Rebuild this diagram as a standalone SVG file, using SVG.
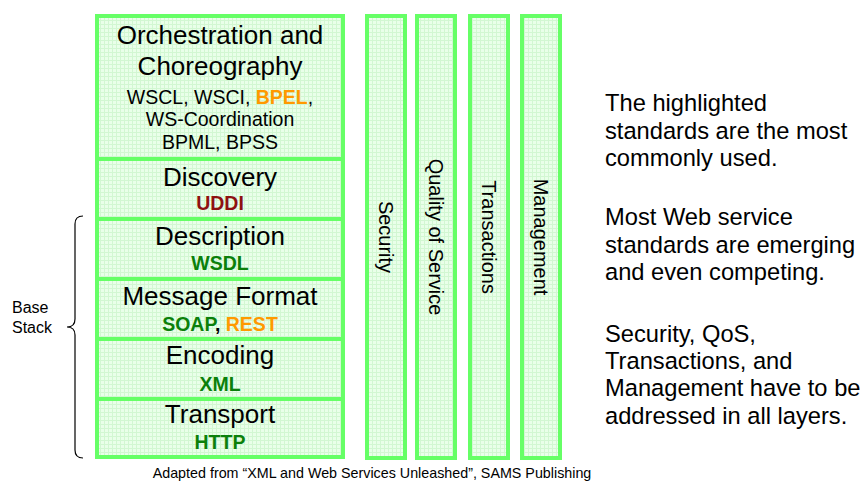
<svg xmlns="http://www.w3.org/2000/svg" width="867" height="482" viewBox="0 0 867 482">
  <defs>
    <!-- light green grid fill used by every layer box -->
    <pattern id="grid" width="4" height="4" patternUnits="userSpaceOnUse">
      <rect width="4" height="4" fill="#e9ffe9"/>
      <path d="M0 0.5H4M0.5 0V4" stroke="#d2f7d2" stroke-width="1" fill="none"/>
    </pattern>
  </defs>
  <style>
    .box { fill: url(#grid); stroke: #66ff66; stroke-width: 4; }
    text { font-family: "Liberation Sans", Arial, sans-serif; fill: #000; }
    .title { font-size: 26px; text-anchor: middle; }
    .sub { font-size: 19.5px; text-anchor: middle; }
    .b { font-weight: bold; }
    .green { fill: #0b800b; }
    .orange { fill: #ff9900; }
    .red { fill: #8e1111; }
    .col { font-size: 20px; text-anchor: middle; }
    .note { font-size: 23.7px; }
    .small { font-size: 16px; }
    .caption { font-size: 14.3px; text-anchor: middle; }
  </style>

  <!-- main protocol stack -->
  <g id="orchestration">
    <rect class="box" x="97" y="16" width="246" height="143"/>
    <text class="title" x="220" y="44">Orchestration and</text>
    <text class="title" x="220" y="75">Choreography</text>
    <text class="sub" x="220" y="104">WSCL, WSCI, <tspan class="b orange">BPEL</tspan>,</text>
    <text class="sub" x="220" y="126">WS-Coordination</text>
    <text class="sub" x="220" y="149">BPML, BPSS</text>
  </g>
  <g id="discovery">
    <rect class="box" x="97" y="159" width="246" height="60"/>
    <text class="title" x="220" y="186">Discovery</text>
    <text class="sub b red" x="220" y="210">UDDI</text>
  </g>
  <g id="description">
    <rect class="box" x="97" y="219" width="246" height="60"/>
    <text class="title" x="220" y="245">Description</text>
    <text class="sub b green" x="220" y="270">WSDL</text>
  </g>
  <g id="message-format">
    <rect class="box" x="97" y="279" width="246" height="60"/>
    <text class="title" x="220" y="305">Message Format</text>
    <text class="sub b" x="220" y="331"><tspan class="green">SOAP</tspan>, <tspan class="orange">REST</tspan></text>
  </g>
  <g id="encoding">
    <rect class="box" x="97" y="339" width="246" height="60"/>
    <text class="title" x="220" y="364">Encoding</text>
    <text class="sub b green" x="220" y="391">XML</text>
  </g>
  <g id="transport">
    <rect class="box" x="97" y="399" width="246" height="58"/>
    <text class="title" x="220" y="423">Transport</text>
    <text class="sub b green" x="220" y="449">HTTP</text>
  </g>

  <!-- cross-cutting concerns -->
  <g id="security">
    <rect class="box" x="367" y="16" width="38" height="442"/>
    <text class="col" transform="translate(386 237) rotate(90)" y="7">Security</text>
  </g>
  <g id="qos">
    <rect class="box" x="417" y="16" width="38" height="442"/>
    <text class="col" transform="translate(436 237) rotate(90)" y="7">Quality of Service</text>
  </g>
  <g id="transactions">
    <rect class="box" x="470" y="16" width="38" height="442"/>
    <text class="col" transform="translate(489 237) rotate(90)" y="7">Transactions</text>
  </g>
  <g id="management">
    <rect class="box" x="522" y="16" width="38" height="442"/>
    <text class="col" transform="translate(541 237) rotate(90)" y="7">Management</text>
  </g>

  <!-- base stack brace -->
  <g id="base-stack">
    <path d="M83 216 Q75 216 75 224 V319 Q75 327 67 327 Q75 327 75 335 V450 Q75 458 83 458" fill="none" stroke="#000" stroke-width="1.2"/>
    <text class="small" x="12" y="313">Base</text>
    <text class="small" x="12" y="333">Stack</text>
  </g>

  <!-- notes -->
  <g id="notes">
    <text class="note" x="605" y="111">The highlighted</text>
    <text class="note" x="605" y="138.5">standards are the most</text>
    <text class="note" x="605" y="166">commonly used.</text>
    <text class="note" x="605" y="225">Most Web service</text>
    <text class="note" x="605" y="252.5">standards are emerging</text>
    <text class="note" x="605" y="280">and even competing.</text>
    <text class="note" x="605" y="341.5">Security, QoS,</text>
    <text class="note" x="605" y="369">Transactions, and</text>
    <text class="note" x="605" y="396">Management have to be</text>
    <text class="note" x="605" y="423.5">addressed in all layers.</text>
  </g>

  <text class="caption" x="372" y="478">Adapted from “XML and Web Services Unleashed”, SAMS Publishing</text>
</svg>
